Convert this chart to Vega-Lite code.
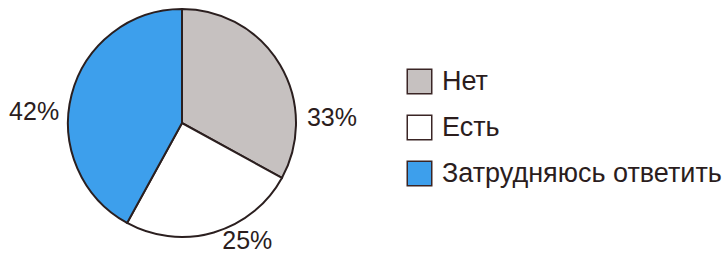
{
  "$schema": "https://vega.github.io/schema/vega-lite/v6.json",
  "width": 364,
  "height": 246,
  "padding": {"left": 0, "top": 0, "right": 0, "bottom": 0},
  "background": "#ffffff",
  "config": {"view": {"stroke": null}, "font": "Liberation Sans"},
  "data": {
    "values": [
      {"answer": "Нет", "share": 33, "label": "33%", "order": 1},
      {"answer": "Есть", "share": 25, "label": "25%", "order": 2},
      {"answer": "Затрудняюсь ответить", "share": 42, "label": "42%", "order": 3}
    ]
  },
  "encoding": {
    "theta": {"field": "share", "type": "quantitative", "stack": true},
    "order": {"field": "order", "type": "quantitative"}
  },
  "layer": [
    {
      "mark": {"type": "arc", "outerRadius": 114, "stroke": "#2b1f1f", "strokeWidth": 2},
      "encoding": {
        "fill": {
          "field": "answer",
          "type": "nominal",
          "sort": ["Нет", "Есть", "Затрудняюсь ответить"],
          "scale": {"domain": ["Нет", "Есть", "Затрудняюсь ответить"], "range": ["#c6c1c0", "#ffffff", "#3d9fec"]},
          "legend": {
            "title": null,
            "orient": "none",
            "legendX": 406,
            "legendY": 68,
            "symbolType": "square",
            "symbolSize": 600,
            "symbolStrokeColor": "#3a2525",
            "symbolStrokeWidth": 1.5,
            "labelFontSize": 27,
            "labelFont": "Liberation Sans",
            "labelColor": "#2b1d1d",
            "labelOffset": 9,
            "rowPadding": 15,
            "labelLimit": 400
          }
        }
      }
    },
    {
      "mark": {"type": "text", "radius": 130, "dx": 38, "dy": 61, "fontSize": 25, "color": "#2b1d1d", "align": "center", "baseline": "middle"},
      "encoding": {"text": {"condition": {"test": "datum.answer === 'Нет'", "field": "label"}, "value": ""}}
    },
    {
      "mark": {"type": "text", "radius": 130, "dx": 29, "dy": -7, "fontSize": 25, "color": "#2b1d1d", "align": "center", "baseline": "middle"},
      "encoding": {"text": {"condition": {"test": "datum.answer === 'Есть'", "field": "label"}, "value": ""}}
    },
    {
      "mark": {"type": "text", "radius": 130, "dx": -22, "dy": 21, "fontSize": 25, "color": "#2b1d1d", "align": "center", "baseline": "middle"},
      "encoding": {"text": {"condition": {"test": "datum.answer === 'Затрудняюсь ответить'", "field": "label"}, "value": ""}}
    }
  ]
}
